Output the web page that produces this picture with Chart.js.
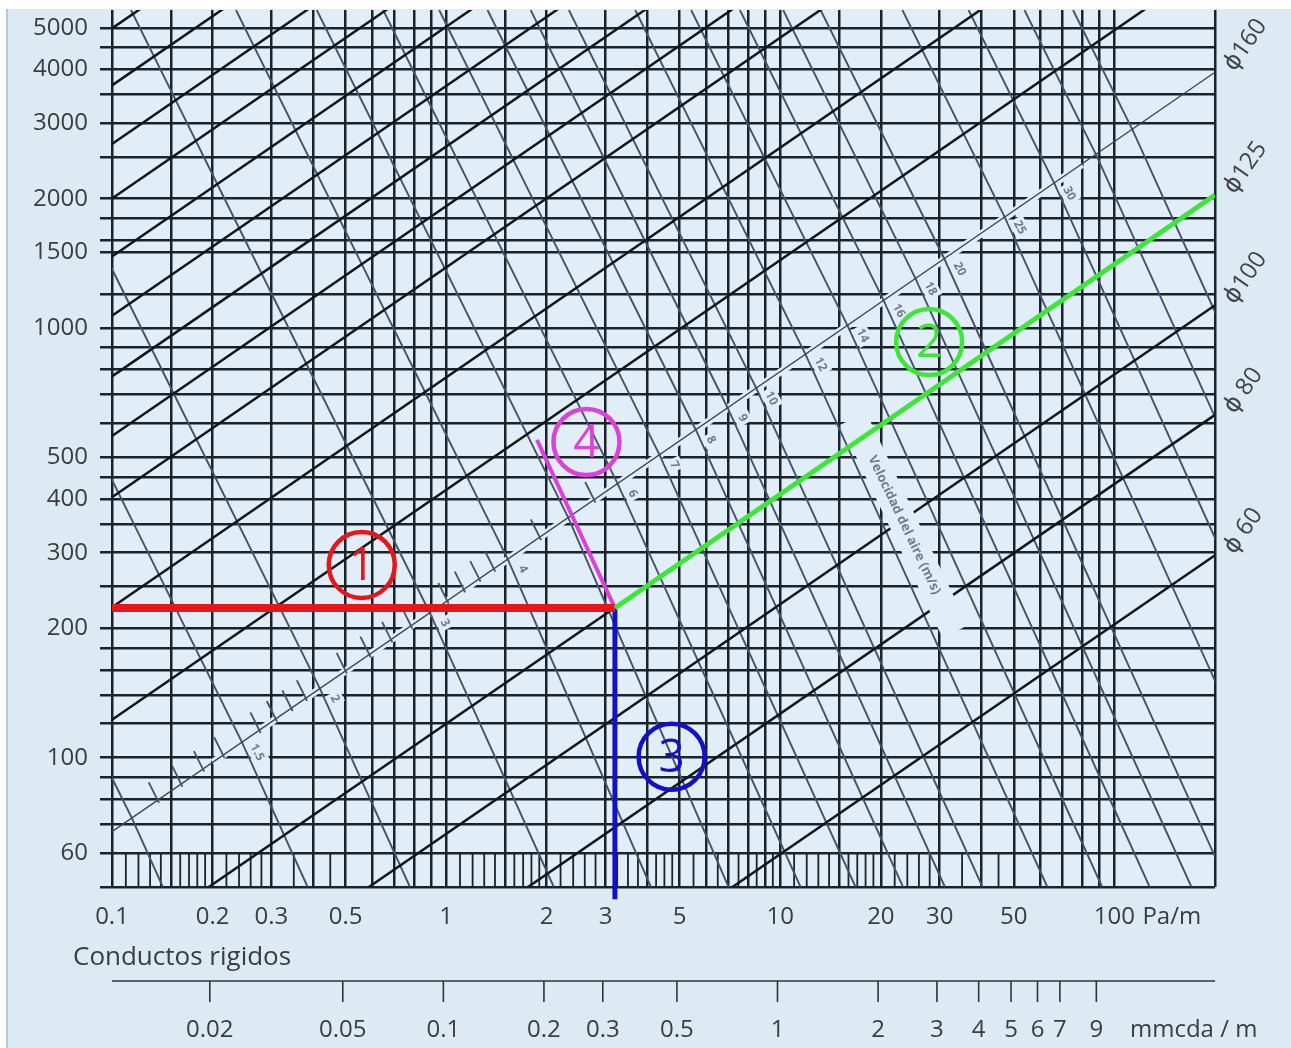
<!DOCTYPE html>
<html><head><meta charset="utf-8">
<script src="https://cdn.jsdelivr.net/npm/chart.js@4.4.1/dist/chart.umd.min.js"></script>
<style>
html,body{margin:0;padding:0;background:#fff;}
canvas{display:block;}
</style></head><body>
<canvas id="c" width="1291" height="1048"></canvas>
<script>
// ---------- DATA ----------
const lossRange = [0.1, 200];          // Pa/m, x axis extent
const flowRange = [50, 5500];          // m3/h, y axis extent
const xGrid = [0.1,0.15,0.2,0.3,0.4,0.5,0.6,0.7,0.8,0.9,1,1.5,2,3,4,5,6,7,8,9,10,15,20,30,40,50,60,70,80,90,100,200];
const xTickLabels = [0.1,0.2,0.3,0.5,1,2,3,5,10,20,30,50,100];
const yGrid = [50,60,70,80,90,100,120,140,160,180,200,250,300,350,400,450,500,600,700,800,900,1000,1200,1500,1600,1800,2000,2500,3000,3500,4000,4500,5000];
const yTickLabels = [60,100,200,300,400,500,1000,1500,2000,3000,4000,5000];
const hatchX = [0.11,0.12,0.13,0.14,0.16,0.17,0.18,0.19,0.22,0.24,0.26,0.28,0.35,0.45,
  1.1,1.2,1.3,1.4,1.6,1.7,1.8,1.9,2.2,2.4,2.6,2.8,3.25,3.5,3.75,4.25,4.5,4.75,5.5,6.5,7.5,8.5,9.5,
  11,12,13,14,16,17,18,19,22,24,26,28,35,45];
const hatchFlow = [50, 60];
const mmcdaTicks = [0.02,0.05,0.1,0.2,0.3,0.5,1,2,3,4,5,6,7,9];
const paPerMmcda = 9.81;

// duct diameter lines (mm): flow at 0.1 Pa/m and at 200 Pa/m
const ductDiam     = [60,80,100,125,160,200,250,315,355,400,450,500,560,630,710,800];
const ductFlowLow  = [5.08,10.8,19.4,35.0,67.3,122.6,224,404,561,772,1068,1467,2002,2681,3672,4984];
const ductFlowHigh = [296,628,1130,2040,3940,7150,13060,23550,32700,45000,62270,85530,116700,156300,214100,290600];
const labelledDiam = [60,80,100,125,160];

// air velocity lines (m/s): loss at 5500 m3/h, crossing of the 160 mm line, loss at 50 m3/h
const velocities    = [1,1.5,2,3,4,5,6,7,8,9,10,12,14,16,18,20,25,30,35,40];
const velLossTop    = [0.00727,0.0201,0.0413,0.114,0.235,0.410,0.648,0.953,1.33,1.79,2.33,3.68,5.41,7.57,10.2,13.2,23.2,36.6,53.8,75.2];
const velLossMid    = [0.1146,0.245,0.419,0.894,1.53,2.32,3.26,4.35,5.59,6.96,8.48,11.9,15.9,20.4,25.4,31.0,47.0,66.1,88.1,113.2];
const velFlowMid    = [72.4,108.6,144.8,217.2,289.6,362,434.4,506.8,579.2,651.6,724,868.8,1013.6,1158.4,1303.2,1448,1810,2172,2534,2896];
const velLossBottom = [0.142,0.385,0.779,2.10,4.1,7.0,11.5,16.8,23.3,31.1,40.3,63.0,91.9,127.5,170,220,381,595,869,1206];
const labelledVel   = [1.5,2,3,4,6,7,8,9,10,12,14,16,18,20,25,30];

// short intermediate velocity marks on the 160 mm line
const markVelLoss = [0.137,0.161,0.187,0.215,0.276,0.309,0.344,0.380,0.500,0.589,0.684,0.785,1.008,1.129,1.256,1.390,1.906,2.773];
const markVelFlow = [79.6,86.9,94.1,101.4,115.8,123.1,130.3,137.6,159.3,173.8,188.2,202.7,231.7,246.2,260.6,275.1,325.8,398.2];

const haloLoss = [0.2, 80];
const haloFlow = [97.5, 2403];

// worked example routes
const route1Loss = [0.1, 3.2],  route1Flow = [223, 223];
const route2Loss = [3.2, 200],  route2Flow = [223, 2040];
const route3Loss = [3.2, 3.2],  route3Flow = [223, 46.8];
const route4Loss = [3.2, 1.87], route4Flow = [223, 549];
const markLoss  = [0.559, 27.9, 4.73, 2.63];
const markFlow  = [281, 928, 100.5, 543];
const markText  = ['1','2','3','4'];

const bandCenter = [23.5, 348];
const bandText = 'Velocidad del aire (m/s)';

// ---------- STYLE ----------
const FONT = '"Open Sans", "DejaVu Sans", sans-serif';
const BG = '#dceaf4', BG_IN = '#e2eef7';
const GRID = '#1b232a';
const RED = '#e3171c', GREEN = '#3fe53a', BLUE = '#1212c4', MAGENTA = '#d943d9';
const markColors = [RED, GREEN, BLUE, MAGENTA];
const VEL = '#44526a';

const pts = (xs, ys) => xs.map((x, i) => ({x, y: ys[i]}));
const datasets = [];
const line = (data, color, width, order, extra) => Object.assign({data, showLine:true, borderColor:color, borderWidth:width, pointRadius:0, order, fill:false}, extra||{});

datasets.push(line(pts(route4Loss, route4Flow), MAGENTA, 4, 4));
datasets.push(line(pts(route3Loss, route3Flow), BLUE, 5, 3, {clip:false}));
datasets.push(line(pts(route1Loss, route1Flow), RED, 8, 2));
datasets.push(line(pts(route2Loss, route2Flow), GREEN, 5, 1));
const FIRST_COLORED = 0;

ductDiam.forEach((d, i) => {
  const thin = d === 160;
  datasets.push(line(pts(lossRange, [ductFlowLow[i], ductFlowHigh[i]]), thin ? '#3b4651' : '#121619', thin ? 1.4 : 2.5, 70));
});
velocities.forEach((v, i) => {
  datasets.push(line(pts([velLossTop[i], velLossMid[i], velLossBottom[i]], [flowRange[1], velFlowMid[i], flowRange[0]]), VEL, 1.9, 80));
});
const hatchData = [];
hatchX.forEach(x => { hatchData.push({x, y:hatchFlow[0]}, {x, y:hatchFlow[1]}, {x, y:null}); });
datasets.push(line(hatchData, '#1b232a', 1.8, 90, {spanGaps:false}));
datasets.push(line(pts(haloLoss, haloFlow), BG_IN, 7, 95));

const near = (arr, v) => arr.find(l => Math.abs(l - v) <= l * 1e-6);

const overlay = {
  id: 'overlay',
  beforeDraw(chart) {
    const c = chart.ctx, a = chart.chartArea;
    c.save();
    c.fillStyle = '#fff'; c.fillRect(0, 0, chart.width, chart.height);
    c.fillStyle = BG; c.fillRect(6, 9, chart.width - 6, chart.height - 9);
    c.strokeStyle = '#b4cadb'; c.lineWidth = 2;
    c.beginPath(); c.moveTo(7, 9); c.lineTo(7, chart.height); c.stroke();
    c.fillStyle = BG_IN; c.fillRect(a.left, a.top, a.right - a.left, a.bottom - a.top);
    c.restore();
  },
  beforeDatasetDraw(chart, args) {
    if (args.index !== FIRST_COLORED) return;
    const c = chart.ctx, xs = chart.scales.x, ys = chart.scales.y, a = chart.chartArea;
    c.save();
    c.beginPath(); c.rect(a.left, a.top, a.right - a.left, a.bottom - a.top); c.clip();
    // short intermediate velocity marks
    c.strokeStyle = VEL; c.lineWidth = 1.8;
    const ang = Math.atan2(2.0, 1);
    markVelLoss.forEach((l, i) => {
      const px = xs.getPixelForValue(l), py = ys.getPixelForValue(markVelFlow[i]);
      c.beginPath();
      c.moveTo(px + 3 * Math.cos(ang), py + 3 * Math.sin(ang));
      c.lineTo(px - 20 * Math.cos(ang), py - 20 * Math.sin(ang));
      c.stroke();
    });
    // velocity band
    c.save();
    c.translate(xs.getPixelForValue(bandCenter[0]), ys.getPixelForValue(bandCenter[1]));
    c.rotate(64.5 * Math.PI / 180);
    c.fillStyle = BG_IN; c.fillRect(-118, -14, 236, 28);
    c.fillStyle = '#6c7d92'; c.font = 'bold 13px ' + FONT;
    c.textAlign = 'center'; c.textBaseline = 'middle';
    c.fillText(bandText, 0, 0);
    c.restore();
    // velocity numbers
    labelledVel.forEach(v => {
      const i = velocities.indexOf(v), t = String(v);
      const px = xs.getPixelForValue(velLossMid[i]) + 15, py = ys.getPixelForValue(velFlowMid[i]) + 10;
      c.save(); c.translate(px, py); c.rotate(62 * Math.PI / 180);
      c.font = 'bold 12px ' + FONT;
      const w = c.measureText(t).width + 6;
      c.fillStyle = BG_IN; c.fillRect(-w / 2, -8, w, 16);
      c.fillStyle = '#6c7d92'; c.textAlign = 'center'; c.textBaseline = 'middle';
      c.fillText(t, 0, 0);
      c.restore();
    });
    c.restore();
  },
  afterDatasetsDraw(chart) {
    const c = chart.ctx, xs = chart.scales.x, ys = chart.scales.y, a = chart.chartArea;
    c.save();
    // circled markers
    markText.forEach((t, i) => {
      const px = xs.getPixelForValue(markLoss[i]), py = ys.getPixelForValue(markFlow[i]);
      c.strokeStyle = markColors[i]; c.lineWidth = 4.5;
      c.beginPath(); c.arc(px, py, 33, 0, Math.PI * 2); c.stroke();
      c.fillStyle = markColors[i]; c.font = '46px ' + FONT;
      c.textAlign = 'center'; c.textBaseline = 'middle';
      c.fillText(t, px, py + 2);
    });
    // diameter labels on right
    c.fillStyle = '#444'; c.font = '24px ' + FONT; c.textAlign = 'left'; c.textBaseline = 'middle';
    labelledDiam.forEach(d => {
      const i = ductDiam.indexOf(d);
      const py = ys.getPixelForValue(ductFlowHigh[i]);
      c.save(); c.translate(a.right + 14, py - 4); c.rotate(-55 * Math.PI / 180);
      c.fillText('\u03D5' + (d < 100 ? ' ' : '') + d, 0, 0);
      c.restore();
    });
    // unit after x labels
    c.fillStyle = '#3c3c3c'; c.font = '24px ' + FONT; c.textAlign = 'left'; c.textBaseline = 'middle';
    c.fillText('Pa/m', xs.getPixelForValue(100) + 28, 917);
    // secondary axis
    c.font = '26px ' + FONT;
    c.fillText('Conductos rigidos', 73, 958);
    const ly = 981;
    c.strokeStyle = '#2f3438'; c.lineWidth = 1.6;
    c.beginPath(); c.moveTo(a.left, ly); c.lineTo(a.right, ly); c.stroke();
    c.font = '24px ' + FONT; c.textAlign = 'center';
    mmcdaTicks.forEach(m => {
      const px = xs.getPixelForValue(m * paPerMmcda);
      c.beginPath(); c.moveTo(px, ly); c.lineTo(px, ly + 21); c.stroke();
      c.fillText(String(m), px, 1030);
    });
    c.textAlign = 'left';
    c.fillText('mmcda / m', 1130, 1030);
    c.restore();
  }
};

new Chart(document.getElementById('c'), {
  type: 'scatter',
  data: { datasets },
  options: {
    responsive: false, animation: false, devicePixelRatio: 1, events: [],
    layout: { padding: { left: 0, right: 76, top: 10, bottom: 0 } },
    plugins: { legend: { display: false }, tooltip: { enabled: false } },
    scales: {
      x: {
        type: 'logarithmic', min: lossRange[0], max: lossRange[1], position: 'bottom',
        afterBuildTicks: s => { s.ticks = xGrid.map(v => ({value: v})); },
        afterFit: s => { s.height = 161; s.paddingLeft = 0; s.paddingRight = 0; },
        grid: { color: GRID, lineWidth: 2.5, drawTicks: false, tickLength: 0 },
        border: { display: false },
        ticks: { autoSkip: false, maxRotation: 0, minRotation: 0, padding: 16, color: '#3c3c3c',
          font: { family: FONT, size: 24 },
          callback: v => { const m = near(xTickLabels, v); return m === undefined ? '' : String(m); } }
      },
      y: {
        type: 'logarithmic', min: flowRange[0], max: flowRange[1],
        afterBuildTicks: s => { s.ticks = yGrid.map(v => ({value: v})); },
        afterFit: s => { s.width = 112; s.paddingTop = 0; s.paddingBottom = 0; },
        grid: { color: GRID, lineWidth: 2.5, drawTicks: true, tickLength: 12 },
        border: { display: false },
        ticks: { autoSkip: false, padding: 12, color: '#3c3c3c',
          font: { family: FONT, size: 24 },
          callback: v => { const m = near(yTickLabels, v); return m === undefined ? '' : String(m); } }
      }
    }
  },
  plugins: [overlay]
});
</script>
</body></html>
